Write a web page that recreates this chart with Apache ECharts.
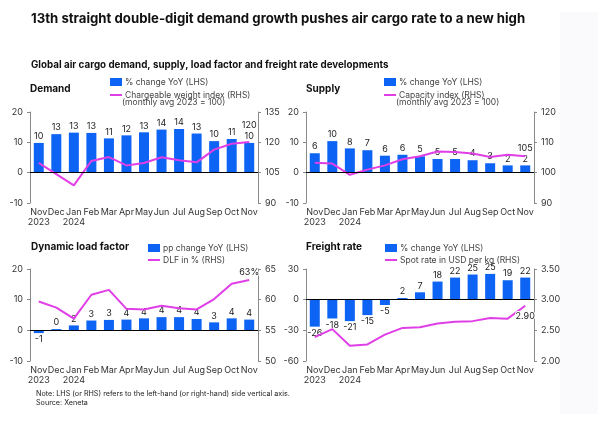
<!DOCTYPE html>
<html>
<head>
<meta charset="utf-8">
<script src="https://cdn.jsdelivr.net/npm/echarts@6/dist/echarts.min.js"></script>
<style>
	html, body { margin: 0; padding: 0; background: #fff; }
	#air-cargo-chart { width: 598px; height: 428px; }
</style>
</head>
<body>
<div id="air-cargo-chart"></div>
<script>
var months = ['Nov\n2023','Dec','Jan\n2024','Feb','Mar','Apr','May','Jun','Jul','Aug','Sep','Oct','Nov'];

var demandYoy = [9.8, 12.7, 13.2, 13.1, 11.3, 12.3, 13.3, 14.2, 14.4, 12.9, 10.4, 11.1, 9.8];
var demandIndex = [109.8, 104.3, 98.7, 110.8, 112.7, 108.6, 109.8, 112.6, 111.1, 110.1, 116.4, 119.3, 120.2];
var supplyYoy = [6.4, 10.4, 8.0, 7.4, 5.6, 5.9, 5.4, 4.5, 4.5, 4.1, 3.1, 2.4, 2.4];
var capacityIndex = [103.3, 103.0, 99.3, 101.0, 102.4, 104.4, 105.4, 107.0, 106.8, 106.3, 105.2, 105.9, 105.4];
var loadFactorPp = [-0.9, 0.4, 1.6, 3.2, 3.4, 3.5, 3.9, 4.3, 4.3, 3.7, 2.6, 3.9, 3.5];
var loadFactorPct = [59.7, 58.7, 56.9, 60.8, 61.6, 58.5, 58.4, 59.0, 58.6, 58.4, 60.1, 62.6, 63.2];
var freightYoy = [-26.4, -18.4, -21.0, -15.1, -5.2, 1.6, 7.2, 17.7, 21.6, 24.6, 25.2, 19.0, 21.6];
var spotRate = [2.39, 2.52, 2.25, 2.27, 2.43, 2.54, 2.55, 2.61, 2.64, 2.65, 2.70, 2.69, 2.90];

// axis ticks (LHS / RHS)
var demandLeftTicks = [-10, 0, 10, 20];
var demandRightTicks = [90, 105, 120, 135];
var supplyLeftTicks = [-10, 0, 10, 20];
var supplyRightTicks = [90, 100, 110, 120];
var loadLeftTicks = [-10, 0, 10, 20];
var loadRightTicks = [50, 55, 60, 65];
var freightLeftTicks = [-60, -30, 0, 30];
var freightRightTicks = [2.0, 2.5, 3.0, 3.5];

var FONT = 'Inter, "Noto Sans", sans-serif';
var BLUE = '#0d63f3';
var PINK = '#e03ee6';
var LINE_ICON = 'path://M0,0H24V4H0Z';

function xAxisFor(gi){
	return {
		type: 'category',
		gridIndex: gi,
		data: months,
		axisLine: { show: false },
		axisTick: { show: false },
		axisLabel: { interval: 0, fontSize: 9, color: '#333', margin: 4, lineHeight: 10, fontFamily: FONT }
	};
}

function yAxisFor(ticks, gi, pos, fmt){
	return {
		type: 'value',
		gridIndex: gi,
		position: pos,
		min: ticks[0],
		max: ticks[ticks.length - 1],
		interval: ticks[1] - ticks[0],
		splitLine: { show: false },
		axisLine: { show: true, lineStyle: { color: '#8a8a8a' } },
		axisTick: { show: true, length: 3, lineStyle: { color: '#8a8a8a' } },
		axisLabel: { fontSize: 9, color: '#333', margin: 7, fontFamily: FONT, formatter: fmt }
	};
}

function barSeries(name, values, idx){
	return {
		name: name,
		type: 'bar',
		xAxisIndex: idx,
		yAxisIndex: idx * 2,
		barWidth: 10,
		itemStyle: { color: BLUE },
		label: {
			show: true,
			fontSize: 9,
			color: '#222',
			distance: 2,
			fontFamily: FONT,
			textBorderColor: '#fff',
			textBorderWidth: 2,
			formatter: function (p) { return Math.round(p.value); }
		},
		data: values.map(function (v) {
			return { value: v, label: { position: v < 0 ? 'bottom' : 'top' } };
		}),
		markLine: {
			silent: true,
			symbol: 'none',
			label: { show: false },
			lineStyle: { color: '#000', width: 1, type: 'solid' },
			data: [{ yAxis: 0 }]
		},
		z: 2
	};
}

// line with a value label on its last point only
function lineSeries(name, values, idx, pos, dist, fmt){
	var last = values.length - 1;
	return {
		name: name,
		type: 'line',
		xAxisIndex: idx,
		yAxisIndex: idx * 2 + 1,
		symbol: 'none',
		lineStyle: { color: PINK, width: 2 },
		itemStyle: { color: PINK },
		data: values,
		markPoint: {
			silent: true,
			symbol: 'circle',
			symbolSize: 1,
			itemStyle: { color: 'rgba(0,0,0,0)' },
			label: {
				show: true, position: pos, distance: dist,
				fontSize: 9, color: '#222', fontFamily: FONT,
				textBorderColor: '#fff', textBorderWidth: 2,
				formatter: function () { return fmt(values[last]); }
			},
			data: [{ coord: [last, values[last]] }]
		},
		z: 3
	};
}

function legendAt(left, top, gap, barName, lineName){
	return {
		left: left,
		top: top,
		padding: 0,
		orient: 'vertical',
		itemWidth: 12,
		itemHeight: 8,
		itemGap: gap,
		selectedMode: false,
		textStyle: { fontSize: 8.5, lineHeight: 10, color: '#444', fontFamily: FONT, padding: [0, 0, 0, -2] },
		data: [{ name: barName, icon: 'rect' }, { name: lineName, icon: LINE_ICON }]
	};
}

function txt(x, y, s, size, weight, color){
	return {
		type: 'text', left: x, top: y,
		style: { text: s, fontSize: size, fontWeight: weight, fill: color, fontFamily: FONT }
	};
}

function airCargoChart(){
	var chart = echarts.init(document.getElementById('air-cargo-chart'));

	var option = {
		animation: false,
		textStyle: { fontFamily: FONT },
		grid: [
			{ left: 30, top: 112, width: 228, height: 91 },
			{ left: 306, top: 112, width: 228, height: 91 },
			{ left: 30, top: 269, width: 228, height: 92 },
			{ left: 306, top: 269, width: 228, height: 92 }
		],
		xAxis: [xAxisFor(0), xAxisFor(1), xAxisFor(2), xAxisFor(3)],
		yAxis: [
			yAxisFor(demandLeftTicks, 0, 'left'),
			yAxisFor(demandRightTicks, 0, 'right'),
			yAxisFor(supplyLeftTicks, 1, 'left'),
			yAxisFor(supplyRightTicks, 1, 'right'),
			yAxisFor(loadLeftTicks, 2, 'left'),
			yAxisFor(loadRightTicks, 2, 'right'),
			yAxisFor(freightLeftTicks, 3, 'left'),
			yAxisFor(freightRightTicks, 3, 'right', function (v) { return v.toFixed(2); })
		],
		legend: [
			legendAt(110, 77, 3, '% change YoY (LHS)', 'Chargeable weight index (RHS)'),
			legendAt(384, 77, 3, '% change YoY (LHS) ', 'Capacity index (RHS)'),
			legendAt(148, 243, 2, 'pp change YoY (LHS)', 'DLF in % (RHS)'),
			legendAt(385, 243, 2, '% change YoY (LHS)  ', 'Spot rate in USD per kg (RHS)')
		],
		series: [
			barSeries('% change YoY (LHS)', demandYoy, 0),
			lineSeries('Chargeable weight index (RHS)', demandIndex, 0, 'top', 12, function (v) { return Math.round(v); }),
			barSeries('% change YoY (LHS) ', supplyYoy, 1),
			lineSeries('Capacity index (RHS)', capacityIndex, 1, 'top', 3, function (v) { return Math.round(v); }),
			barSeries('pp change YoY (LHS)', loadFactorPp, 2),
			lineSeries('DLF in % (RHS)', loadFactorPct, 2, 'top', 3, function (v) { return Math.round(v) + '%'; }),
			barSeries('% change YoY (LHS)  ', freightYoy, 3),
			lineSeries('Spot rate in USD per kg (RHS)', spotRate, 3, 'bottom', 5, function (v) { return v.toFixed(2); })
		],
		graphic: [
			{ type: 'rect', left: 560, top: 12, z: -10, shape: { width: 38, height: 402 }, style: { fill: '#fafafc' } },
			txt(31, 13, '13th straight double-digit demand growth pushes air cargo rate to a new high', 13.2, 'bold', '#111'),
			txt(31, 60, 'Global air cargo demand, supply, load factor and freight rate developments', 9.8, 'bold', '#111'),
			txt(30, 84, 'Demand', 10, 'bold', '#111'),
			txt(306, 84, 'Supply', 10, 'bold', '#111'),
			txt(31, 242, 'Dynamic load factor', 10, 'bold', '#111'),
			txt(306, 242, 'Freight rate', 10, 'bold', '#111'),
			txt(122, 98, '(monthly avg 2023 = 100)', 8.5, 'normal', '#444'),
			txt(396, 98, '(monthly avg 2023 = 100)', 8.5, 'normal', '#444'),
			txt(36, 390, 'Note: LHS (or RHS) refers to the left-hand (or right-hand) side vertical axis.', 7.2, 'normal', '#222'),
			txt(36, 399, 'Source: Xeneta', 7.2, 'normal', '#222')
		]
	};

	chart.setOption(option);
}

airCargoChart();
</script>
</body>
</html>
